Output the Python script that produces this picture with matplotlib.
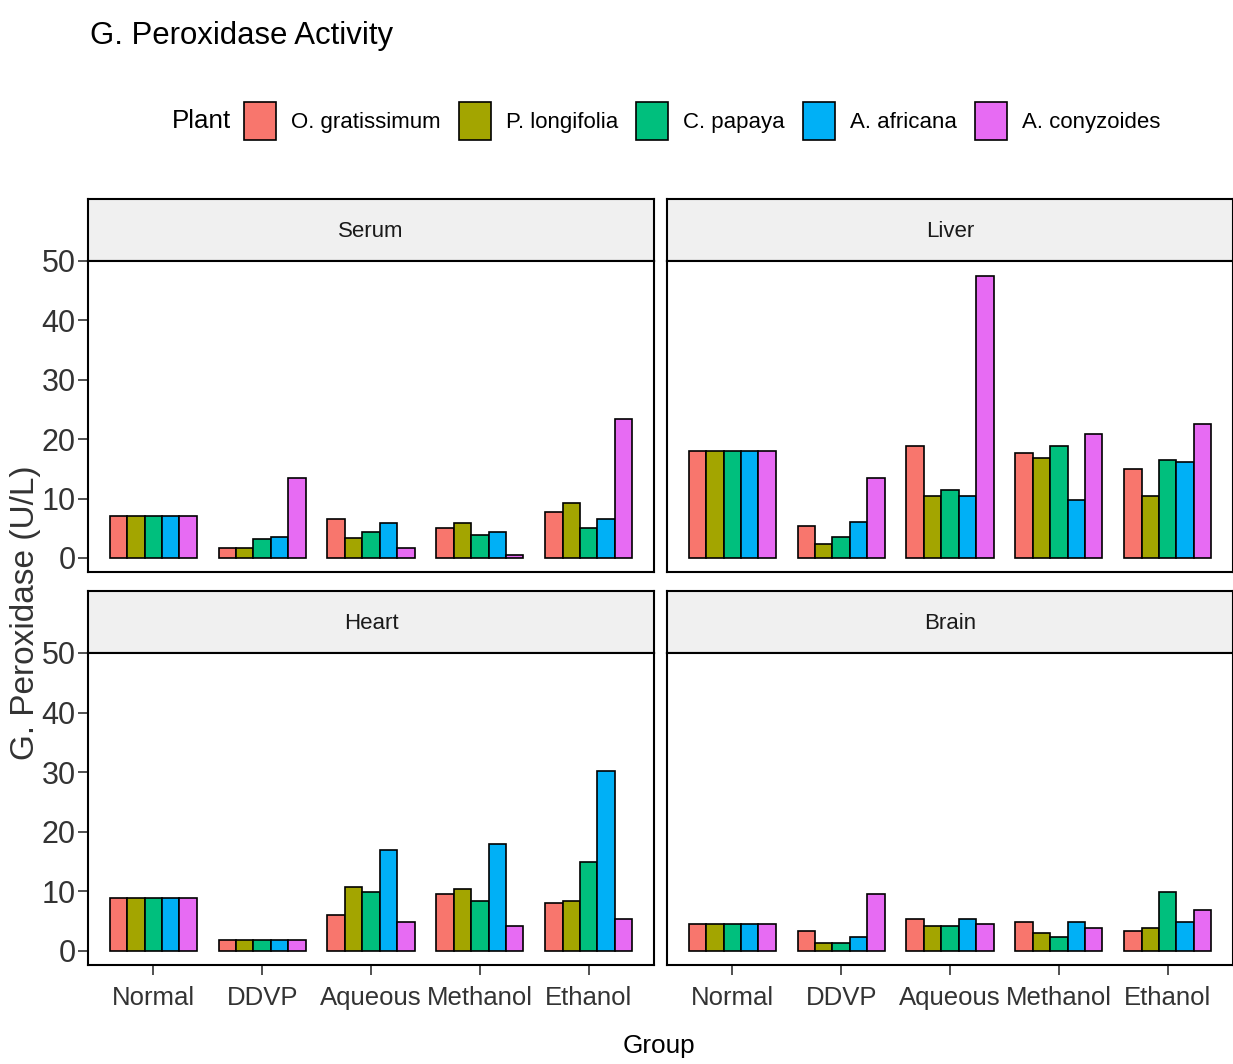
import numpy as np
import matplotlib
matplotlib.use("Agg")
import matplotlib.pyplot as plt
from matplotlib.patches import Patch

plt.rcParams['font.family'] = ['Liberation Sans', 'DejaVu Sans']

groups = ["Normal", "DDVP", "Aqueous", "Methanol", "Ethanol"]
plants = ["O. gratissimum", "P. longifolia", "C. papaya", "A. africana", "A. conyzoides"]
colors = ["#F8766D", "#A3A500", "#00BF7D", "#00B0F6", "#E76BF3"]

# values per plant, in group order
serum = [
    [7.0, 1.6, 6.6, 5.0, 7.7],
    [7.0, 1.6, 3.4, 5.8, 9.2],
    [7.0, 3.1, 4.3, 3.9, 5.0],
    [7.0, 3.5, 5.8, 4.3, 6.6],
    [7.0, 13.4, 1.6, 0.5, 23.4],
]
liver = [
    [18.0, 5.4, 18.8, 17.7, 15.0],
    [18.0, 2.3, 10.4, 16.9, 10.4],
    [18.0, 3.5, 11.5, 18.8, 16.5],
    [18.0, 6.1, 10.4, 9.7, 16.1],
    [18.0, 13.4, 47.5, 20.8, 22.6],
]
heart = [
    [8.8, 1.9, 6.1, 9.5, 8.0],
    [8.8, 1.9, 10.7, 10.3, 8.4],
    [8.8, 1.9, 9.9, 8.4, 14.9],
    [8.8, 1.9, 16.9, 18.0, 30.2],
    [8.8, 1.9, 4.9, 4.2, 5.4],
]
brain = [
    [4.5, 3.4, 5.3, 4.9, 3.4],
    [4.5, 1.4, 4.2, 3.0, 3.8],
    [4.5, 1.4, 4.2, 2.3, 9.9],
    [4.5, 2.3, 5.3, 4.9, 4.9],
    [4.5, 9.5, 4.5, 3.8, 6.9],
]

panels = [("Serum", serum), ("Liver", liver), ("Heart", heart), ("Brain", brain)]

W, H = 1233, 1064
fig = plt.figure(figsize=(W / 100, H / 100), dpi=100)


def px_box(x0, y0, x1, y1):
    """pixel box (top-left origin) -> figure fraction rect"""
    return [x0 / W, 1 - y1 / H, (x1 - x0) / W, (y1 - y0) / H]


col_x = [(88, 654), (667, 1233)]
row_y = [(199, 261, 572), (591, 653, 965)]

x = np.arange(len(groups))
dodge = 0.8
bw = dodge / len(plants)
ymax = 47.5

for i, (name, data) in enumerate(panels):
    r, c = divmod(i, 2)
    x0, x1 = col_x[c]
    st, sb, pb = row_y[r]

    # facet strip
    sax = fig.add_axes(px_box(x0, st, x1, sb))
    sax.set_facecolor("#F0F0F0")
    sax.set_xticks([])
    sax.set_yticks([])
    for sp in sax.spines.values():
        sp.set_linewidth(1.5)
    sax.text(0.5, 0.47, name, ha="center", va="center", fontsize=16,
             color="#1A1A1A", transform=sax.transAxes)

    ax = fig.add_axes(px_box(x0, sb, x1, pb))
    for j, vals in enumerate(data):
        off = (j - (len(plants) - 1) / 2) * bw
        ax.bar(x + off, vals, width=bw, color=colors[j], edgecolor="black",
               linewidth=1.2)

    ax.set_xlim(-0.6, len(groups) - 0.4)
    ax.set_ylim(-0.05 * ymax, 1.05 * ymax)
    ax.set_yticks([0, 10, 20, 30, 40, 50])
    ax.set_xticks(x)
    for sp in ax.spines.values():
        sp.set_linewidth(1.5)
    ax.tick_params(length=7, width=1.2, color="#333333", labelcolor="#333333")
    ax.tick_params(axis="y", labelsize=22, pad=2)
    ax.tick_params(axis="x", labelsize=18.5, pad=8)
    if r == 0:
        ax.tick_params(axis="x", bottom=False, labelbottom=False)
    else:
        ax.set_xticklabels(groups)
    if c == 1:
        ax.tick_params(axis="y", left=False, labelleft=False)

# titles and axis labels
fig.text(90 / W, 1 - 36 / H, "G. Peroxidase Activity", fontsize=22.4, va="center", ha="left")
fig.text(659 / W, 1 - 1046 / H, "Group", fontsize=18.8, ha="center", va="center")
fig.text(26 / W, 1 - 613 / H, "G. Peroxidase (U/L)", fontsize=24, rotation=90,
         ha="center", va="center", color="#333333")

# legend
fig.text(172 / W, 1 - 121 / H, "Plant", fontsize=18.7, ha="left", va="center")
handles = [Patch(facecolor=col, edgecolor="black", linewidth=1.2) for col in colors]
fig.legend(handles, plants, loc="center left", bbox_to_anchor=(244 / W, 1 - 121 / H),
           ncol=5, frameon=False, fontsize=16, handlelength=1.45, handleheight=2.3,
           handletextpad=0.68, columnspacing=0.8, borderpad=0, borderaxespad=0)

fig.savefig("out.png", dpi=100)
